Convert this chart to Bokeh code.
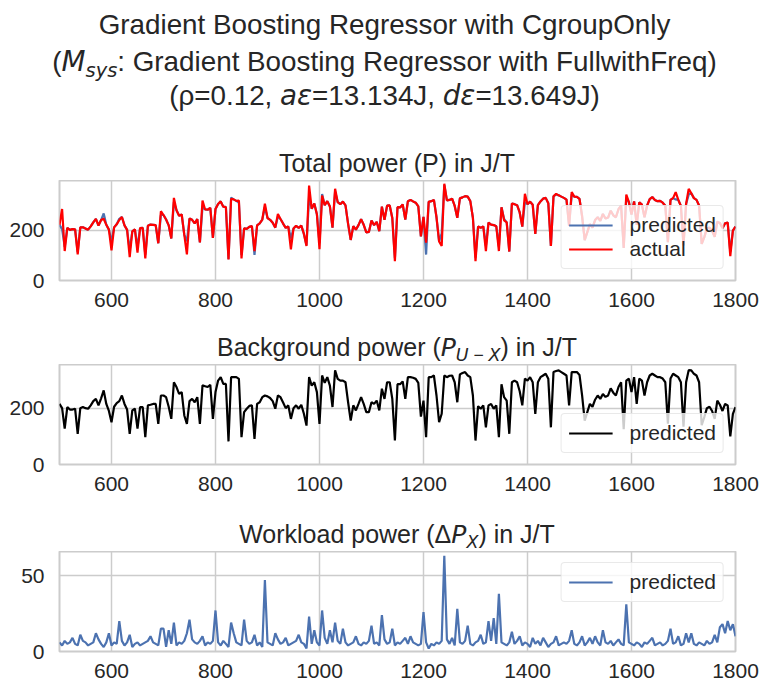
from bokeh.plotting import figure
from bokeh.models import Range1d, FixedTicker, Div
from bokeh.layouts import column
from bokeh.embed import file_html
from bokeh.resources import INLINE

# ---------------- data ----------------
background = [
    215, 200, 127, 204, 195, 195, 198, 109, 200, 204,
    200, 198, 210, 225, 233, 210, 235, 263, 215, 190,
    150, 205, 218, 225, 245, 215, 195, 109, 192, 198,
    127, 204, 204, 97, 210, 212, 215, 215, 144, 245,
    245, 239, 205, 162, 292, 275, 251, 257, 174, 144,
    225, 233, 221, 239, 144, 281, 278, 275, 283, 162,
    257, 298, 310, 286, 286, 82, 310, 310, 310, 304,
    97, 186, 198, 208, 210, 91, 215, 221, 239, 245,
    242, 236, 225, 198, 245, 239, 220, 200, 210, 162,
    200, 210, 198, 212, 180, 138, 310, 280, 292, 257,
    144, 316, 290, 310, 280, 204, 334, 304, 298, 298,
    292, 221, 156, 210, 192, 215, 239, 215, 186, 186,
    221, 215, 227, 192, 269, 233, 292, 292, 233, 85,
    285, 285, 295, 233, 310, 310, 308, 304, 290, 170,
    227, 97, 310, 310, 316, 245, 150, 180, 316, 310,
    315, 316, 292, 221, 320, 325, 328, 316, 310, 245,
    85, 207, 198, 210, 132, 210, 215, 198, 210, 97,
    285, 239, 227, 109, 292, 298, 292, 260, 210, 305,
    298, 310, 292, 180, 292, 310, 316, 322, 304, 132,
    328, 332, 334, 328, 322, 316, 210, 328, 328, 328,
    318, 245, 156, 186, 215, 205, 230, 245, 233, 250,
    240, 245, 270, 255, 245, 275, 292, 125, 298, 305,
    257, 310, 215, 305, 298, 245, 292, 316, 322, 316,
    310, 310, 305, 292, 145, 305, 322, 316, 310, 292,
    134, 292, 335, 334, 322, 316, 292, 140, 168, 200,
    205, 190, 162, 227, 212, 190, 215, 210, 100, 180,
    204,
]

workload = [
    6, 4, 7, 5, 6, 9, 5, 4, 11, 7,
    6, 4, 5, 6, 12, 8, 5, 3, 6, 12,
    4, 6, 5, 20, 7, 4, 6, 11, 3, 5,
    6, 4, 5, 6, 7, 10, 6, 5, 4, 15,
    15, 3, 14, 5, 19, 4, 6, 5, 7, 12,
    21, 8, 6, 5, 7, 10, 4, 6, 5, 7,
    27, 6, 4, 7, 5, 3, 19, 12, 6, 5,
    4, 21, 7, 5, 6, 11, 4, 6, 3, 47,
    6, 5, 4, 12, 8, 5, 6, 9, 4, 5,
    6, 7, 11, 6, 5, 2, 23, 5, 14, 6,
    4, 27, 9, 5, 14, 6, 19, 7, 5, 15,
    6, 4, 5, 6, 10, 5, 4, 6, 5, 7,
    17, 5, 6, 4, 24, 8, 5, 6, 15, 4,
    6, 5, 7, 9, 5, 10, 6, 5, 4, 5,
    26, 6, 2, 5, 4, 6, 5, 7, 63, 8,
    5, 9, 4, 28, 6, 5, 7, 17, 5, 4,
    6, 7, 11, 5, 6, 20, 7, 22, 5, 38,
    6, 5, 4, 6, 13, 5, 7, 10, 4, 6,
    5, 3, 9, 5, 7, 4, 9, 6, 3, 5,
    6, 10, 4, 5, 6, 5, 7, 14, 5, 4,
    6, 10, 4, 6, 9, 5, 10, 6, 4, 14,
    6, 5, 7, 4, 6, 8, 5, 4, 31, 6,
    5, 4, 6, 5, 3, 6, 5, 7, 9, 4,
    5, 6, 4, 5, 7, 15, 5, 6, 10, 4,
    5, 12, 6, 12, 5, 4, 6, 5, 4, 7,
    5, 6, 11, 6, 16, 18, 12, 20, 14, 18,
    10,
]

actual = [
    221, 284, 117, 209, 201, 204, 203, 104, 211, 211,
    206, 202, 215, 231, 245, 218, 240, 245, 221, 202,
    120, 211, 223, 240, 252, 219, 201, 93, 195, 203,
    111, 208, 209, 88, 217, 222, 221, 220, 148, 275,
    260, 242, 219, 167, 328, 279, 257, 262, 181, 104,
    246, 241, 227, 244, 151, 317, 282, 281, 288, 169,
    284, 304, 314, 293, 291, 84, 324, 322, 316, 317,
    88, 207, 205, 213, 216, 117, 219, 227, 242, 305,
    248, 241, 229, 210, 264, 244, 226, 209, 214, 124,
    206, 217, 209, 218, 185, 137, 377, 285, 306, 263,
    124, 337, 299, 315, 294, 210, 364, 311, 303, 313,
    298, 225, 161, 216, 202, 220, 243, 221, 191, 193,
    238, 220, 233, 196, 293, 241, 297, 298, 248, 77,
    291, 290, 302, 242, 315, 320, 314, 309, 294, 175,
    253, 150, 312, 315, 320, 251, 155, 137, 384, 318,
    320, 325, 296, 249, 326, 330, 335, 333, 315, 249,
    77, 214, 209, 215, 117, 230, 222, 220, 215, 117,
    291, 239, 231, 115, 305, 303, 299, 270, 214, 344,
    303, 313, 301, 185, 299, 314, 325, 328, 307, 137,
    334, 344, 338, 333, 328, 321, 217, 351, 333, 332,
    324, 255, 160, 192, 224, 210, 240, 251, 237, 264,
    246, 250, 277, 259, 251, 283, 297, 129, 341, 311,
    262, 314, 221, 310, 301, 251, 297, 323, 331, 320,
    315, 316, 309, 297, 152, 320, 327, 351, 320, 296,
    139, 304, 364, 346, 327, 320, 298, 145, 172, 207,
    210, 196, 173, 233, 228, 208, 227, 230, 97, 198,
    214,
]

time = list(range(500, 500 + 5 * len(background), 5))
# total predicted power = background + workload
predicted_total = [b + w for b, w in zip(background, workload)]

x_ticks = [600, 800, 1000, 1200, 1400, 1600, 1800]

# ---------------- styling ----------------
FONT = "Liberation Sans"
TXT = "#262626"
BLUE = "#4c72b0"
GRID = "#cccccc"
LEFT = 59
FRAME_W = 676
RIGHT = 30
W_TOTAL = LEFT + FRAME_W + RIGHT
FRAME_H = 100
LW = 2.2


def make_fig(ymax, yticks, bottom):
    p = figure(frame_width=FRAME_W, frame_height=FRAME_H,
               x_range=Range1d(500, 1800), y_range=Range1d(0, ymax),
               min_border_left=LEFT, min_border_right=RIGHT,
               min_border_top=0, min_border_bottom=bottom,
               output_backend="svg", toolbar_location=None)
    p.outline_line_color = GRID
    p.outline_line_width = 2
    p.xaxis.ticker = FixedTicker(ticks=x_ticks)
    p.yaxis.ticker = FixedTicker(ticks=yticks)
    for ax in p.axis:
        ax.axis_line_color = None
        ax.major_tick_line_color = None
        ax.minor_tick_line_color = None
        ax.major_tick_out = 0
        ax.major_tick_in = 0
        ax.major_label_text_font = FONT
        ax.major_label_text_font_size = "21px"
        ax.major_label_text_color = TXT
    p.xaxis.major_label_standoff = 12
    p.yaxis.major_label_standoff = 15
    p.grid.grid_line_color = GRID
    p.grid.grid_line_width = 1.5
    return p


def style_legend(p, loc):
    lg = p.legend[0]
    lg.location = loc
    lg.margin = 11
    lg.padding = 7
    lg.spacing = 0
    lg.glyph_width = 44
    lg.glyph_height = 20
    lg.label_height = 20
    lg.label_standoff = 17
    lg.label_text_font = FONT
    lg.label_text_font_size = "21px"
    lg.label_text_color = TXT
    lg.border_line_color = "#d4d4d4"
    lg.border_line_width = 1.2
    lg.background_fill_alpha = 0.8
    if "border_radius" in lg.properties():
        lg.border_radius = 4


def title_div(content, h):
    pad = h - 7.5 - 0.8465 * 25
    html = (f'<div style="display:block;box-sizing:border-box;width:{W_TOTAL}px;'
            f'font-family:\'{FONT}\';font-size:25px;color:{TXT};'
            f'line-height:1;text-align:center;padding-left:{LEFT}px;'
            f'padding-right:{RIGHT}px;padding-top:{pad:.1f}px;white-space:nowrap">'
            f'{content}</div>')
    return Div(text=html, width=W_TOTAL, height=h, margin=(0, 0, 0, 0))


MATH = "font-family:'DejaVu Sans';font-style:italic"
SUB = "font-size:70%;vertical-align:-0.3em;line-height:0"

sup_html = (
    f'<div style="display:block;box-sizing:border-box;width:769px;'
    f'font-family:\'{FONT}\';font-size:27.8px;color:{TXT};'
    f'text-align:center;line-height:1;white-space:nowrap">'
    f'<div style="padding-top:10.5px">Gradient Boosting Regressor with CgroupOnly</div>'
    f'<div style="padding-top:10px">(<span style="{MATH}">M<span style="{SUB}">sys</span></span>'
    f': Gradient Boosting Regressor with FullwithFreq)</div>'
    f'<div style="padding-top:6px">(ρ=0.12, <span style="{MATH}">aε</span>=13.134J, '
    f'<span style="{MATH}">dε</span>=13.649J)</div>'
    f'</div>'
)
sup_div = Div(text=sup_html, width=W_TOTAL, height=140, margin=(0, 0, 0, 0))

# ---- panel 1: total power ----
p1 = make_fig(397, [0, 200], 45)
p1.line(time, predicted_total, line_color=BLUE, line_width=LW, legend_label="predicted")
p1.line(time, actual, line_color="red", line_width=LW, legend_label="actual")
style_legend(p1, "bottom_right")
t1 = title_div("Total power (P) in J/T", 40)

# ---- panel 2: background power ----
p2 = make_fig(355, [0, 200], 45)
p2.line(time, background, line_color="black", line_width=LW, legend_label="predicted")
style_legend(p2, "bottom_right")
t2 = title_div(f'Background power (<span style="{MATH}">P</span>'
               f'<span style="{SUB}"><span style="{MATH}">U</span> − '
               f'<span style="{MATH}">X</span></span>) in J/T', 39)

# ---- panel 3: workload power ----
p3 = make_fig(65.8, [0, 50], 33)
p3.line(time, workload, line_color=BLUE, line_width=LW, legend_label="predicted")
style_legend(p3, "top_right")
t3 = title_div(f'Workload power (Δ<span style="{MATH}">P</span>'
               f'<span style="{SUB}"><span style="{MATH}">X</span></span>) in J/T', 42)

layout = column(sup_div, t1, p1, t2, p2, t3, p3, spacing=0)

with open("out.html", "w", encoding="utf-8") as f:
    f.write(file_html(layout, INLINE))
